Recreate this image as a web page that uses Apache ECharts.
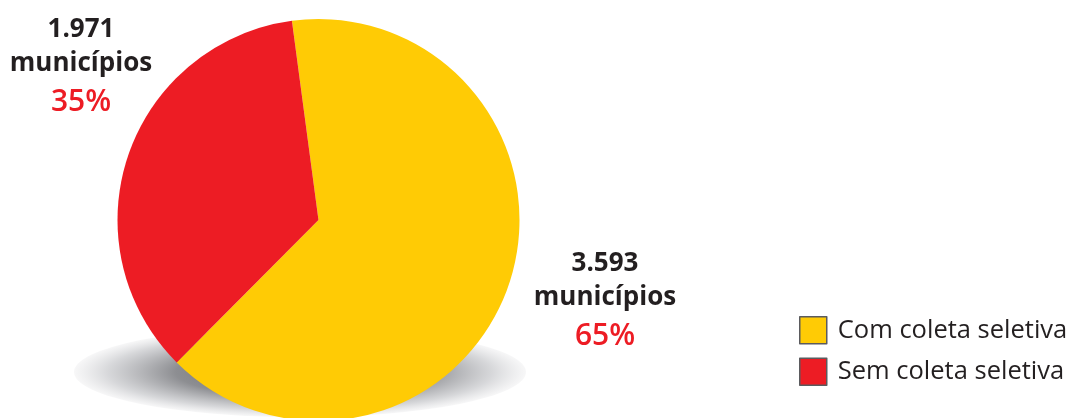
<!DOCTYPE html>
<html>
<head>
<meta charset="utf-8">
<style>
  html, body { margin: 0; padding: 0; background: #ffffff; }
  #chart { width: 1069px; height: 418px; }
</style>
<script src="https://cdn.jsdelivr.net/npm/echarts@6/dist/echarts.min.js"></script>
</head>
<body>
<div id="chart"></div>
<script>
// Municípios brasileiros com e sem coleta seletiva
const categories = ['Com coleta seletiva', 'Sem coleta seletiva'];
const municipios = [3593, 1971];
const colors = ['#FFCB05', '#ED1C24'];

// Posição dos rótulos de cada fatia (centro do bloco de texto)
const labelAnchors = [
  { x: 605, y: 247 },
  { x: 81, y: 13 }
];

function milhar(n) {
  return String(n).replace(/\B(?=(\d{3})+(?!\d))/g, '.');
}

const FONT = '"Open Sans", "Noto Sans", sans-serif';

const chart = echarts.init(document.getElementById('chart'), null, { renderer: 'canvas' });

chart.setOption({
  animation: false,
  backgroundColor: '#ffffff',
  color: colors,
  legend: {
    orient: 'vertical',
    left: 799,
    top: 316,
    padding: 0,
    itemWidth: 27,
    itemHeight: 27,
    itemGap: 13,
    icon: 'rect',
    selectedMode: false,
    itemStyle: { borderColor: '#5b5b5e', borderWidth: 1.5 },
    textStyle: { fontFamily: FONT, fontSize: 25.5, color: '#231f20', padding: [0, 0, 0, 6] },
    data: categories
  },
  graphic: [
    {
      // sombra elíptica sob a pizza
      type: 'circle',
      z: 0,
      x: 300,
      y: 372,
      scaleY: 0.2,
      silent: true,
      shape: { cx: 0, cy: 0, r: 226 },
      style: {
        fill: {
          type: 'radial', x: 0.5, y: 0.5, r: 0.5,
          colorStops: [
            { offset: 0, color: 'rgba(95,96,100,1)' },
            { offset: 0.55, color: 'rgba(135,136,140,0.95)' },
            { offset: 0.85, color: 'rgba(205,206,209,0.8)' },
            { offset: 1, color: 'rgba(242,242,243,0.6)' }
          ]
        }
      }
    }
  ],
  series: [
    {
      type: 'pie',
      z: 2,
      center: [318.5, 220],
      radius: 201,
      startAngle: 97.6,
      clockwise: true,
      percentPrecision: 0,
      silent: true,
      emphasis: { disabled: true },
      itemStyle: { borderWidth: 0 },
      labelLine: { show: false },
      label: {
        show: true,
        position: 'outside',
        overflow: 'none',
        bleedMargin: 0,
        formatter: function (p) {
          return '{v|' + milhar(p.value) + '}\n{n|municípios}\n{p|' + p.percent + '%}';
        },
        rich: {
          v: { fontFamily: FONT, fontSize: 26, fontWeight: 'bold', color: '#231f20', lineHeight: 34, align: 'center' },
          n: { fontFamily: FONT, fontSize: 26, fontWeight: 'bold', color: '#231f20', lineHeight: 34, align: 'center' },
          p: { fontFamily: FONT, fontSize: 30, fontWeight: 600, color: '#ED1C24', lineHeight: 42, align: 'center' }
        }
      },
      labelLayout: function (params) {
        const a = labelAnchors[params.dataIndex];
        return { x: a.x, y: a.y, align: 'center', verticalAlign: 'top' };
      },
      data: categories.map(function (name, i) {
        return { name: name, value: municipios[i] };
      })
    }
  ]
});
</script>
</body>
</html>
